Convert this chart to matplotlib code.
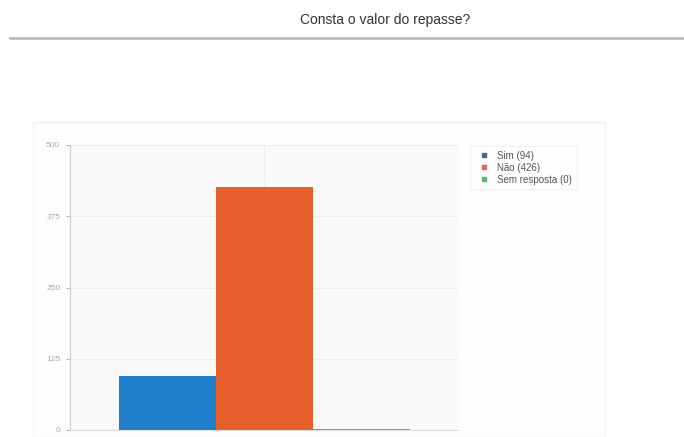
import numpy as np
import matplotlib.pyplot as plt
from matplotlib.patches import Rectangle
from matplotlib.lines import Line2D

# dados
categorias = ['Sim', 'Não', 'Sem resposta']
valores = [94, 426, 0]
cores = ['#1f7fcc', '#e85f2e', '#5cb85c']
yticks = [0, 125, 250, 375, 500]

plt.rcParams['font.family'] = ['Liberation Sans', 'DejaVu Sans']

fig = plt.figure(figsize=(6.84, 4.37), dpi=100)
fig.patch.set_facecolor('white')

# titulo e linha
fig.text(385 / 684, 1 - 20 / 437, 'Consta o valor do repasse?', ha='center', va='center',
         fontsize=10, color='#333333')
fig.add_artist(Line2D([10 / 684, 1], [1 - 38 / 437, 1 - 38 / 437], color='#bbbbbb', lw=2))

# painel de fundo
fig.add_artist(Rectangle((33 / 684, 0), (605 - 33) / 684, 1 - 122 / 437,
                         transform=fig.transFigure, facecolor='#fdfdfd',
                         edgecolor='#f2f2f2', lw=1, zorder=0))

ax = fig.add_axes([70 / 684, 1 - 430 / 437, (458 - 70) / 684, (430 - 145) / 437])
ax.set_facecolor('#fafafa')

pos = [0.25, 0.5, 0.75]
for p, v, c, n in zip(pos, valores, cores, categorias):
    ax.bar(p, v if v > 0 else 2, width=0.25, color=c, zorder=3,
           label='%s (%d)' % (n, v))

ax.set_xlim(0, 1)
ax.set_ylim(0, 500)
ax.set_yticks(yticks)
ax.set_xticks([])
ax.grid(axis='y', color='#eeeeee', lw=0.8, zorder=0)
ax.axvline(0.5, color='#eeeeee', lw=0.8, zorder=0)
ax.tick_params(axis='y', labelsize=6, colors='#aaaaaa', length=3, width=0.6, pad=4)
for s in ['top', 'right']:
    ax.spines[s].set_visible(False)
ax.spines['left'].set_color('#cccccc')
ax.spines['bottom'].set_color('#dddddd')

# legenda
leg_cores = ['#3d6b8a', '#e8605a', '#5cb85c']
handles = [Line2D([], [], marker='s', ls='none', color=c, markersize=3) for c in leg_cores]
labels = ['%s (%d)' % (n, v) for n, v in zip(categorias, valores)]
fig.legend(handles, labels, loc='upper left', bbox_to_anchor=(465 / 684, 1 - 141 / 437),
           fontsize=7, frameon=True, edgecolor='#eeeeee', fancybox=False,
           handletextpad=0.3, labelspacing=0.2, borderpad=0.5, labelcolor='#555555')

plt.savefig('out.png', dpi=100)
